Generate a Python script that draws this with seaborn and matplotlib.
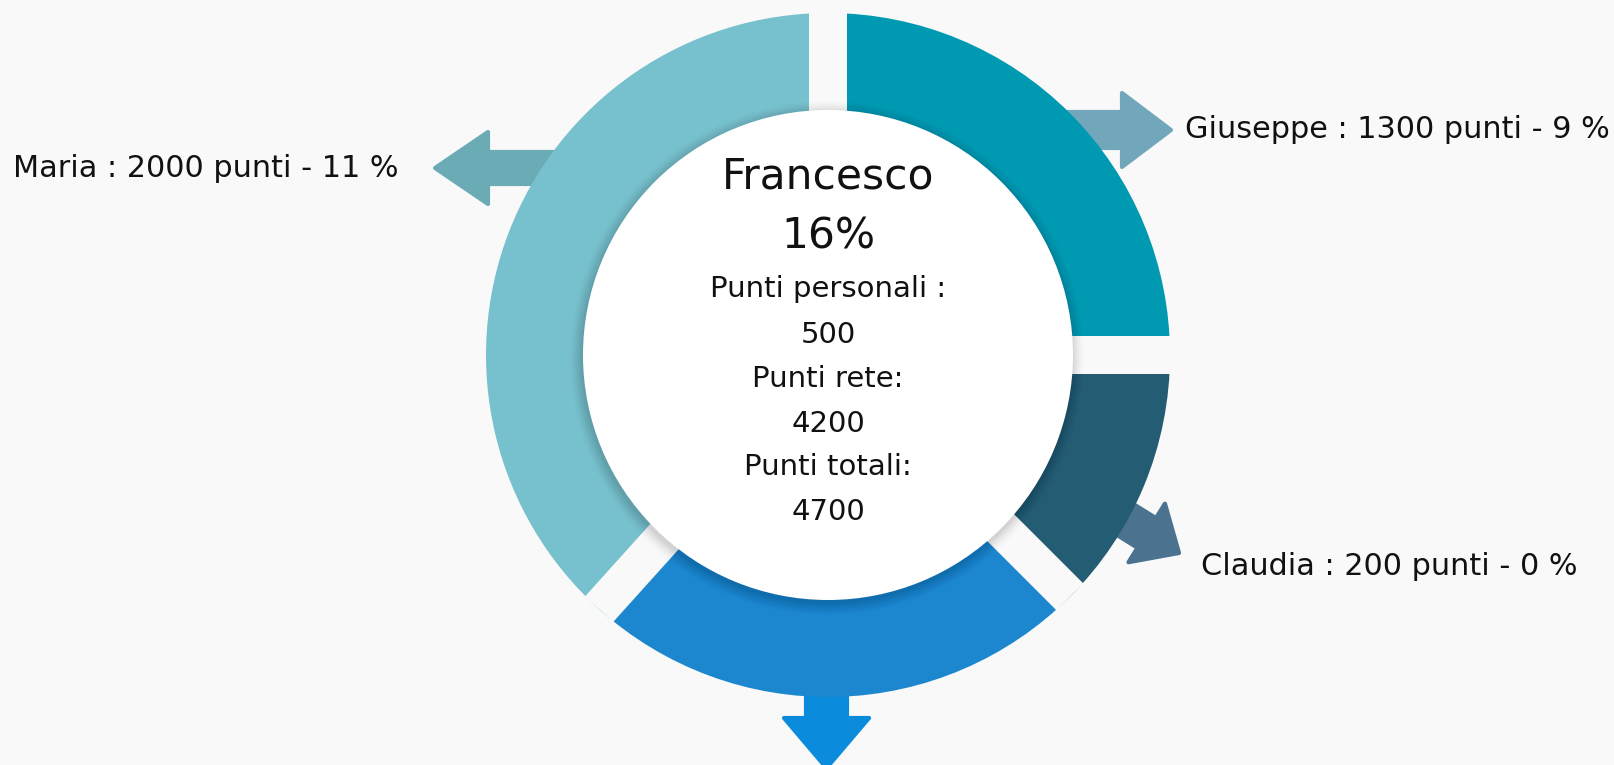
import numpy as np
import matplotlib.pyplot as plt
import matplotlib.patches as mpatches
import seaborn as sns

# dati
nomi = ["Giuseppe", "Claudia", "", "Maria"]
quote = [90, 45, 87, 138]          # ampiezza degli spicchi (gradi)
punti = [1300, 200, None, 2000]
percentuali = [9, 0, None, 11]
colori = ["#0099b2", "#245c73", "#1c87cf", "#76c1cd"]
colori_frecce = ["#72a7bb", "#4b7390", "#0a8bdc", "#6aabb6"]

centro_nome = "Francesco"
centro_perc = 16
punti_personali = 500
punti_rete = 4200
punti_totali = 4700

#####################################################################
# setup
sns.set_theme(style="white")
plt.rcParams['font.family'] = ['DejaVu Sans']
bg = "#f9f9f9"

W, H = 1615, 765
fig = plt.figure(figsize=(W / 100, H / 100), dpi=100, facecolor=bg)
ax = fig.add_axes([0, 0, 1, 1])
ax.set_xlim(0, W)
ax.set_ylim(0, H)
ax.set_aspect('equal')
ax.axis('off')
ax.set_facecolor(bg)

def Y(y):
    # da coordinate immagine a coordinate asse
    return H - y

cx, cy = 828, Y(355)
R = 342
r_in = 245
gap = 38

# frecce (sotto gli spicchi)
frecce = [
    dict(start=(1000, 130), tip=(1171, 130), w=36, hw=74, hl=49),
    dict(start=(1060, 479), tip=(1179, 553), w=35, hw=69, hl=38),
    dict(start=(826.5, 620), tip=(826.5, 768), w=41, hw=85, hl=50),
    dict(start=(600, 168), tip=(435, 168), w=32, hw=72, hl=53),
]
for f, c in zip(frecce, colori_frecce):
    x0, y0 = f['start'][0], Y(f['start'][1])
    x1, y1 = f['tip'][0], Y(f['tip'][1])
    ax.add_patch(mpatches.FancyArrow(x0, y0, x1 - x0, y1 - y0, width=f['w'],
                                     head_width=f['hw'], head_length=f['hl'],
                                     length_includes_head=True, color=c,
                                     lw=3, joinstyle='round', zorder=1))

# ciambella
wedges, _ = ax.pie(quote, colors=colori, radius=R, center=(cx, cy),
                   startangle=90, counterclock=False,
                   wedgeprops=dict(width=R - 150, linewidth=0))
for wdg in wedges:
    wdg.set_zorder(2)
ax.set_xlim(0, W)
ax.set_ylim(0, H)

# separatori tra gli spicchi
bordi = 90 - np.cumsum([0] + quote[:-1])
gap_pt = gap * 72 / 100
for a in bordi:
    t = np.deg2rad(a)
    ax.plot([cx, cx + R * np.cos(t)], [cy, cy + R * np.sin(t)], color=bg,
            lw=gap_pt, solid_capstyle='butt', zorder=3)

# ombra e cerchio bianco
for k in range(12):
    ax.add_patch(mpatches.Circle((cx - 1, cy - 3), r_in + 12 - k, color='#000000',
                                 alpha=0.006 + k * 0.0012, lw=0, zorder=4))
ax.add_patch(mpatches.Circle((cx, cy), r_in, color='white', lw=0, zorder=5))

# testi al centro
righe = [
    (centro_nome, 188, 30.5),
    (f"{centro_perc}%", 248, 30.5),
    ("Punti personali :", 297, 21),
    (str(punti_personali), 343, 21),
    ("Punti rete:", 387, 21),
    (str(punti_rete), 432, 21),
    ("Punti totali:", 475, 21),
    (str(punti_totali), 520, 21),
]
for txt, yb, fs in righe:
    ax.text(cx, Y(yb), txt, ha='center', va='baseline', fontsize=fs,
            color='#111111', zorder=6)

# etichette esterne
pos_etichette = {"Giuseppe": (1185, 138), "Claudia": (1201, 575), "Maria": (13, 177)}
for n, p, pc in zip(nomi, punti, percentuali):
    if n in pos_etichette:
        x, yb = pos_etichette[n]
        ax.text(x, Y(yb), f"{n} : {p} punti - {pc} %", ha='left', va='baseline',
                fontsize=21.8, color='#111111', zorder=6)

plt.savefig("out.png", dpi=100, facecolor=bg)
